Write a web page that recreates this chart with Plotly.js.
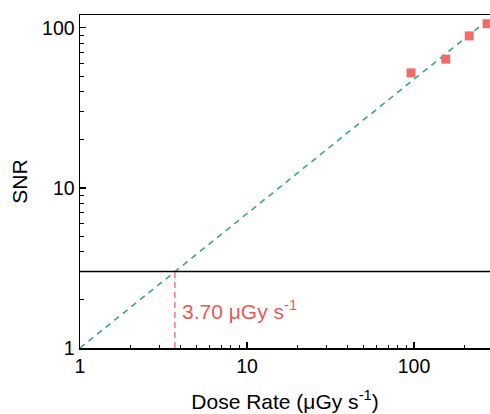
<!DOCTYPE html>
<html><head><meta charset="utf-8">
<script src="https://cdn.plot.ly/plotly-3.0.1.min.js"></script>
<style>html,body{margin:0;padding:0;background:#fff}</style>
</head><body><div id="chart" style="width:490px;height:414px"></div>
<script>
const doseRate = [96, 155, 214, 274];
const snr = [52.3, 63.7, 89, 106];
const fitX = [1, 300];
const fitY = [1, 120];
const thresholdSNR = 3;
const lodDose = 3.70;
const lodLabel = "3.70 μGy s<sup>-1</sup>";

const font = "Arial, 'Liberation Sans', sans-serif";
const traces = [
  {x: fitX, y: fitY, mode: 'lines', line: {color: '#3fa57c', width: 1.6, dash: '6px,5px'}, hoverinfo: 'skip'},
  {x: [1, 300], y: [thresholdSNR, thresholdSNR], mode: 'lines', line: {color: '#000', width: 1.5}},
  {x: [lodDose, lodDose], y: [1, thresholdSNR], mode: 'lines', line: {color: '#e8585a', width: 1.2, dash: '6px,4px'}},
  {x: doseRate, y: snr, mode: 'markers', marker: {symbol: 'square', size: 9, color: '#f26b6b'}}
];
const axisCommon = {
  type: 'log', showgrid: false, zeroline: false, showline: true, linecolor: '#000', linewidth: 1.5,
  ticks: 'inside', ticklen: 6, tickwidth: 1.3, tickcolor: '#000', dtick: 1,
  tickfont: {family: font, size: 19.5, color: '#000'},
  minor: {ticks: 'inside', ticklen: 3.5, tickwidth: 1, tickcolor: '#000', dtick: 'D1', showgrid: false}
};
const layout = {
  width: 490, height: 414, showlegend: false,
  margin: {l: 80, r: 0, t: 15, b: 66},
  paper_bgcolor: '#fff', plot_bgcolor: '#fff',
  font: {family: font, color: '#000'},
  xaxis: Object.assign({}, axisCommon, {range: [0, Math.log10(285)], mirror: true,
    title: {text: 'Dose Rate (μGy s<sup>-1</sup>)', font: {family: font, size: 21, color: '#000'}, standoff: 18}}),
  yaxis: Object.assign({}, axisCommon, {range: [0, 2.08],
    title: {text: 'SNR', font: {family: font, size: 21, color: '#000'}, standoff: 8}}),
  annotations: [{x: Math.log10(lodDose), y: Math.log10(1.72), xref: 'x', yref: 'y', text: lodLabel,
    showarrow: false, xanchor: 'left', xshift: 5, font: {family: font, size: 21, color: '#e8585a'}}]
};
Plotly.newPlot('chart', traces, layout, {displayModeBar: false, staticPlot: true});
</script></body></html>
